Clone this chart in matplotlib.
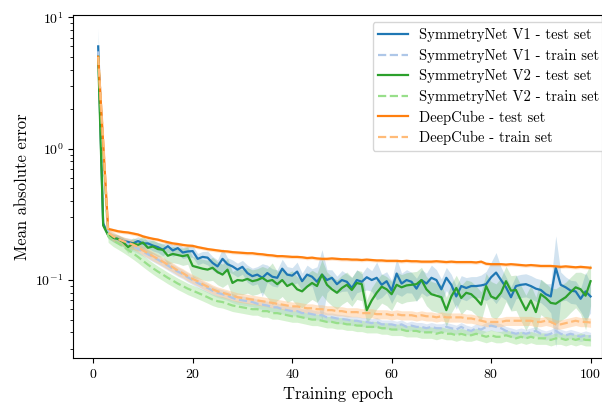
import numpy as np
import matplotlib
matplotlib.use("Agg")
import matplotlib.pyplot as plt

# mean absolute error per epoch
epochs = np.arange(1, 101)

v1_test = [6.0, 0.27, 0.22, 0.21, 0.205, 0.198, 0.195, 0.19, 0.198, 0.19,
           0.19, 0.183, 0.178, 0.17, 0.181, 0.168, 0.175, 0.162, 0.165, 0.166,
           0.145, 0.15, 0.148, 0.135, 0.127, 0.145, 0.132, 0.127, 0.12, 0.126,
           0.113, 0.107, 0.11, 0.104, 0.113, 0.106, 0.104, 0.122, 0.11, 0.108,
           0.116, 0.098, 0.11, 0.106, 0.097, 0.11, 0.1, 0.104, 0.093, 0.1,
           0.097, 0.087, 0.1, 0.097, 0.105, 0.1, 0.104, 0.092, 0.098, 0.083,
           0.112, 0.094, 0.1, 0.097, 0.086, 0.1, 0.094, 0.104, 0.1, 0.085,
           0.104, 0.092, 0.075, 0.09, 0.087, 0.09, 0.09, 0.091, 0.093, 0.105,
           0.114, 0.1, 0.088, 0.074, 0.09, 0.092, 0.093, 0.09, 0.086, 0.084,
           0.078, 0.075, 0.124, 0.092, 0.088, 0.083, 0.082, 0.072, 0.082, 0.075]
v1_train = [5.5, 1.0, 0.225, 0.212, 0.203, 0.195, 0.188, 0.18, 0.173, 0.165,
            0.157, 0.15, 0.143, 0.136, 0.129, 0.122, 0.116, 0.111, 0.105, 0.1,
            0.095, 0.091, 0.087, 0.083, 0.08, 0.078, 0.076, 0.073, 0.071, 0.07,
            0.069, 0.068, 0.066, 0.065, 0.064, 0.062, 0.062, 0.06, 0.059, 0.058,
            0.058, 0.056, 0.056, 0.055, 0.054, 0.054, 0.052, 0.052, 0.051, 0.0505,
            0.05, 0.049, 0.049, 0.048, 0.048, 0.047, 0.048, 0.046, 0.046, 0.046,
            0.045, 0.046, 0.044, 0.045, 0.044, 0.044, 0.043, 0.044, 0.043, 0.043,
            0.044, 0.043, 0.042, 0.044, 0.042, 0.041, 0.043, 0.042, 0.044, 0.045,
            0.044, 0.043, 0.041, 0.04, 0.039, 0.04, 0.039, 0.04, 0.041, 0.039,
            0.038, 0.039, 0.041, 0.039, 0.038, 0.039, 0.038, 0.037, 0.038, 0.037]
v2_test = [5.0, 0.26, 0.22, 0.21, 0.205, 0.195, 0.178, 0.19, 0.185, 0.193,
           0.176, 0.18, 0.172, 0.17, 0.153, 0.158, 0.155, 0.152, 0.155, 0.128,
           0.125, 0.122, 0.12, 0.124, 0.115, 0.11, 0.12, 0.095, 0.1, 0.099,
           0.102, 0.098, 0.1, 0.104, 0.098, 0.1, 0.093, 0.1, 0.09, 0.094,
           0.085, 0.082, 0.089, 0.095, 0.09, 0.11, 0.092, 0.085, 0.08, 0.087,
           0.092, 0.084, 0.095, 0.093, 0.059, 0.07, 0.08, 0.089, 0.085, 0.078,
           0.092, 0.088, 0.091, 0.092, 0.093, 0.1, 0.085, 0.078, 0.076, 0.074,
           0.059, 0.075, 0.087, 0.073, 0.08, 0.078, 0.072, 0.065, 0.09, 0.075,
           0.072, 0.08, 0.098, 0.083, 0.084, 0.07, 0.059, 0.07, 0.057, 0.078,
           0.073, 0.067, 0.066, 0.07, 0.074, 0.081, 0.088, 0.085, 0.076, 0.098]
v2_train = [5.0, 0.9, 0.215, 0.2, 0.19, 0.18, 0.17, 0.16, 0.15, 0.14,
            0.131, 0.123, 0.116, 0.11, 0.104, 0.099, 0.094, 0.09, 0.086, 0.083,
            0.08, 0.077, 0.074, 0.071, 0.069, 0.068, 0.066, 0.064, 0.063, 0.062,
            0.061, 0.06, 0.06, 0.058, 0.058, 0.056, 0.056, 0.055, 0.054, 0.053,
            0.053, 0.052, 0.051, 0.05, 0.05, 0.049, 0.048, 0.048, 0.047, 0.047,
            0.046, 0.046, 0.045, 0.045, 0.044, 0.044, 0.044, 0.043, 0.043, 0.042,
            0.042, 0.042, 0.041, 0.041, 0.041, 0.04, 0.04, 0.04, 0.039, 0.04,
            0.039, 0.039, 0.038, 0.039, 0.038, 0.038, 0.039, 0.038, 0.037, 0.038,
            0.037, 0.037, 0.038, 0.037, 0.036, 0.037, 0.036, 0.037, 0.036, 0.036,
            0.036, 0.035, 0.036, 0.036, 0.035, 0.036, 0.035, 0.036, 0.035, 0.035]
dc_test = [5.0, 1.1, 0.245, 0.24, 0.235, 0.232, 0.23, 0.226, 0.222, 0.215,
           0.21, 0.206, 0.203, 0.198, 0.194, 0.19, 0.188, 0.185, 0.183, 0.182,
           0.178, 0.175, 0.172, 0.17, 0.168, 0.166, 0.165, 0.163, 0.162, 0.161,
           0.16, 0.16, 0.158, 0.157, 0.155, 0.154, 0.152, 0.152, 0.151, 0.15,
           0.15, 0.149, 0.147, 0.148, 0.146, 0.145, 0.145, 0.146, 0.145, 0.144,
           0.144, 0.143, 0.143, 0.142, 0.143, 0.142, 0.141, 0.141, 0.14, 0.14,
           0.14, 0.139, 0.14, 0.139, 0.139, 0.138, 0.138, 0.138, 0.139, 0.138,
           0.137, 0.138, 0.137, 0.137, 0.137, 0.137, 0.136, 0.138, 0.133, 0.132,
           0.132, 0.132, 0.131, 0.132, 0.131, 0.13, 0.129, 0.13, 0.129, 0.128,
           0.128, 0.128, 0.127, 0.126, 0.127, 0.126, 0.125, 0.126, 0.125, 0.124]
dc_train = [5.0, 1.2, 0.23, 0.215, 0.205, 0.198, 0.192, 0.186, 0.178, 0.168,
            0.16, 0.152, 0.145, 0.138, 0.131, 0.125, 0.118, 0.113, 0.107, 0.102,
            0.098, 0.093, 0.089, 0.085, 0.082, 0.08, 0.078, 0.076, 0.074, 0.073,
            0.072, 0.071, 0.07, 0.069, 0.068, 0.067, 0.066, 0.065, 0.064, 0.063,
            0.063, 0.062, 0.061, 0.061, 0.06, 0.06, 0.059, 0.059, 0.058, 0.058,
            0.057, 0.057, 0.057, 0.056, 0.056, 0.056, 0.055, 0.055, 0.055, 0.054,
            0.055, 0.054, 0.054, 0.054, 0.053, 0.054, 0.053, 0.053, 0.052, 0.053,
            0.052, 0.052, 0.052, 0.052, 0.051, 0.051, 0.05, 0.049, 0.048, 0.048,
            0.048, 0.048, 0.049, 0.049, 0.049, 0.049, 0.049, 0.049, 0.048, 0.048,
            0.049, 0.048, 0.046, 0.046, 0.047, 0.048, 0.049, 0.048, 0.048, 0.0475]

# relative spread of the shaded bands (std / mean)
v1_test_spread = [0.37, 0.05, 0.05, 0.06, 0.06, 0.07, 0.07, 0.08, 0.08, 0.08,
                  0.08, 0.09, 0.09, 0.1, 0.1, 0.1, 0.1, 0.1, 0.1, 0.1,
                  0.1, 0.1, 0.12, 0.12, 0.12, 0.2, 0.12, 0.12, 0.12, 0.12,
                  0.15, 0.15, 0.15, 0.28, 0.15, 0.15, 0.15, 0.18, 0.15, 0.15,
                  0.18, 0.15, 0.18, 0.15, 0.3, 0.55, 0.2, 0.15, 0.15, 0.18,
                  0.15, 0.2, 0.2, 0.15, 0.2, 0.18, 0.32, 0.2, 0.18, 0.2,
                  0.3, 0.2, 0.2, 0.18, 0.2, 0.2, 0.2, 0.25, 0.2, 0.2,
                  0.2, 0.2, 0.2, 0.2, 0.2, 0.18, 0.18, 0.2, 0.25, 0.3,
                  0.42, 0.25, 0.2, 0.2, 0.2, 0.2, 0.2, 0.2, 0.2, 0.2,
                  0.2, 0.25, 0.75, 0.25, 0.2, 0.2, 0.2, 0.2, 0.4, 0.25]
v2_test_spread = [0.1, 0.06, 0.06, 0.07, 0.08, 0.08, 0.1, 0.1, 0.1, 0.12,
                  0.12, 0.12, 0.12, 0.12, 0.14, 0.14, 0.14, 0.15, 0.15, 0.18,
                  0.18, 0.18, 0.18, 0.2, 0.2, 0.2, 0.22, 0.22, 0.22, 0.22,
                  0.22, 0.22, 0.22, 0.22, 0.25, 0.35, 0.25, 0.25, 0.25, 0.25,
                  0.25, 0.25, 0.25, 0.25, 0.25, 0.3, 0.25, 0.25, 0.25, 0.25,
                  0.25, 0.25, 0.25, 0.25, 0.2, 0.25, 0.25, 0.25, 0.25, 0.25,
                  0.25, 0.25, 0.25, 0.25, 0.25, 0.25, 0.25, 0.25, 0.25, 0.25,
                  0.25, 0.25, 0.25, 0.25, 0.25, 0.25, 0.25, 0.25, 0.25, 0.3,
                  0.3, 0.3, 0.3, 0.3, 0.3, 0.3, 0.3, 0.3, 0.3, 0.3,
                  0.3, 0.3, 0.3, 0.3, 0.3, 0.3, 0.3, 0.35, 0.45, 0.35]
v1_train_spread = 0.08
v2_train_spread = 0.1
dc_train_spread = 0.08
dc_test_spread = 0.03

plt.rcParams['font.family'] = 'serif'
plt.rcParams['font.serif'] = ['cmr10']
plt.rcParams['mathtext.fontset'] = 'cm'
plt.rcParams['axes.formatter.use_mathtext'] = True
plt.rcParams['font.size'] = 11

fig = plt.figure(figsize=(6.02, 4.05), dpi=100)
ax = fig.add_axes([0.1218, 0.116, 0.8782, 0.847])

series = [
    (v1_test, v1_test_spread, '#1f77b4', '-', 0.2, 'SymmetryNet V1 - test set'),
    (v1_train, v1_train_spread, '#aec7e8', '--', 0.4, 'SymmetryNet V1 - train set'),
    (v2_test, v2_test_spread, '#2ca02c', '-', 0.2, 'SymmetryNet V2 - test set'),
    (v2_train, v2_train_spread, '#98df8a', '--', 0.4, 'SymmetryNet V2 - train set'),
    (dc_test, dc_test_spread, '#ff7f0e', '-', 0.2, 'DeepCube - test set'),
    (dc_train, dc_train_spread, '#ffbb78', '--', 0.4, 'DeepCube - train set'),
]

for mean, spread, color, ls, alpha, label in series:
    mean = np.array(mean)
    sd = mean * np.array(spread)
    ax.fill_between(epochs, mean - sd, mean + sd, color=color, alpha=alpha, linewidth=0)
    ax.plot(epochs, mean, color=color, linestyle=ls, linewidth=1.6, label=label)

ax.set_yscale('log')
ax.set_xlim(-4, 102.3)
ax.set_ylim(0.0255, 10.4)
ax.set_xticks([0, 20, 40, 60, 80, 100])
ax.tick_params(labelsize=10)
ax.set_xlabel('Training epoch', fontsize=12)
ax.set_ylabel('Mean absolute error', fontsize=12)

ax.legend(loc='upper right', bbox_to_anchor=(1.02, 1.0), fontsize=10.5,
          labelspacing=0.45)

fig.savefig('out.png', dpi=100)
